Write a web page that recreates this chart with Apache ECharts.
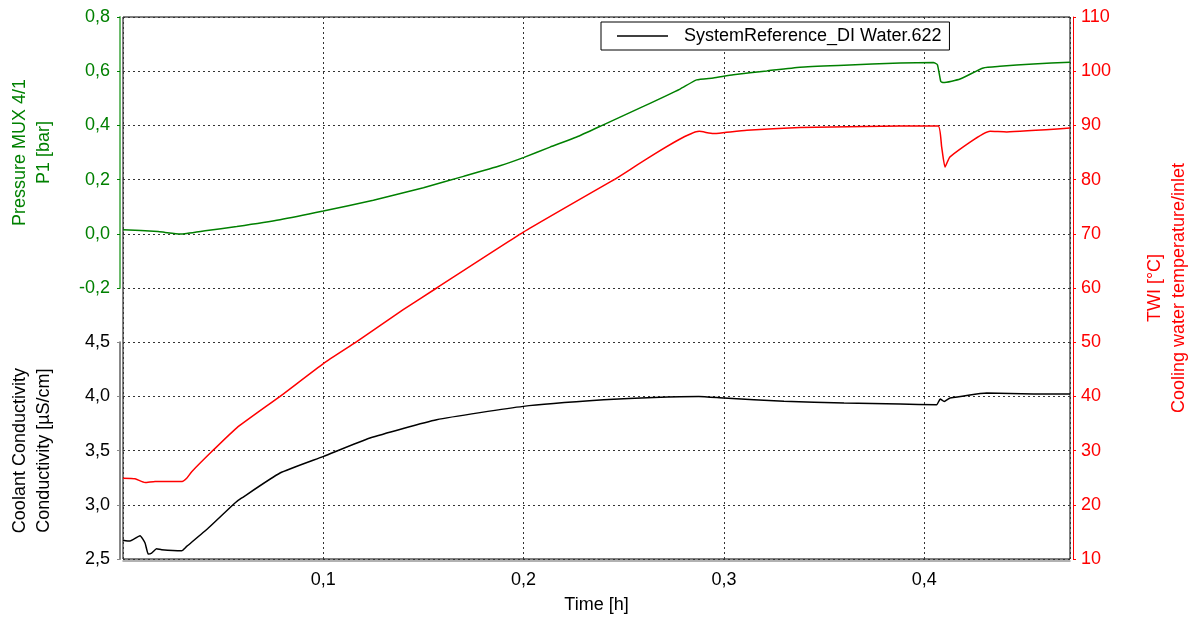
<!DOCTYPE html>
<html>
<head>
<meta charset="utf-8">
<script src="https://cdn.jsdelivr.net/npm/echarts@6/dist/echarts.min.js"></script>
<style>html,body{margin:0;padding:0;background:#fff}#c{width:1193px;height:619px}</style>
</head>
<body>
<div id="c"></div>
<script>
// Time [h]
const tTWI = [0, 0.006, 0.011, 0.016, 0.0295, 0.0318, 0.0343, 0.0451, 0.0568, 0.0784, 0.1002, 0.1167, 0.1399, 0.1566, 0.1999, 0.2448, 0.2877, 0.2947, 0.3005, 0.3114, 0.338, 0.37, 0.388, 0.407, 0.4087, 0.4104, 0.4129, 0.4329, 0.4412, 0.4728];
const vTWI = [24.9, 24.8, 24.1, 24.3, 24.3, 24.9, 26.1, 30.1, 34.2, 40.0, 46.1, 50.1, 56.0, 60.0, 70.3, 79.9, 88.9, 88.5, 88.7, 89.1, 89.6, 89.8, 89.9, 89.9, 86.1, 82.3, 84.2, 88.9, 88.8, 89.5];

const tP1 = [0, 0.0175, 0.021, 0.0285, 0.041, 0.0568, 0.0784, 0.1, 0.125, 0.15, 0.17, 0.1882, 0.2002, 0.2132, 0.2265, 0.2398, 0.2598, 0.2781, 0.2864, 0.2947, 0.3047, 0.3214, 0.338, 0.36, 0.388, 0.4046, 0.4066, 0.4083, 0.4096, 0.4179, 0.4295, 0.4378, 0.4545, 0.4728];
const vP1 = [0.015, 0.0085, 0.005, -0.001, 0.011, 0.027, 0.052, 0.084, 0.124, 0.17, 0.212, 0.251, 0.282, 0.320, 0.357, 0.402, 0.470, 0.534, 0.568, 0.575, 0.587, 0.601, 0.615, 0.622, 0.630, 0.632, 0.624, 0.562, 0.558, 0.571, 0.612, 0.618, 0.627, 0.633];

const tCond = [0, 0.0035, 0.0085, 0.011, 0.0126, 0.0143, 0.0168, 0.0193, 0.0293, 0.0318, 0.0426, 0.0559, 0.0593, 0.0784, 0.1002, 0.1233, 0.1566, 0.1999, 0.24, 0.265, 0.2875, 0.3, 0.33, 0.36, 0.388, 0.4062, 0.408, 0.41, 0.4129, 0.4312, 0.4545, 0.4728];
const vCond = [2.674, 2.666, 2.715, 2.648, 2.546, 2.555, 2.594, 2.585, 2.576, 2.616, 2.786, 3.017, 3.063, 3.293, 3.447, 3.616, 3.785, 3.908, 3.968, 3.99, 4.0, 3.985, 3.955, 3.94, 3.93, 3.923, 3.976, 3.954, 3.985, 4.031, 4.022, 4.022];

const legendName = 'SystemReference_DI Water.622';
const xName = 'Time [h]';
const pName = 'Pressure MUX 4/1\nP1 [bar]';
const cName = 'Coolant Conductivity\nConductivity [µS/cm]';
const tName = 'TWI [°C]\nCooling water temperature/inlet';

const zip = (a, b) => a.map((x, i) => [x, b[i]]);
const comma = (v, d) => v.toFixed(d).replace('.', ',');
const FONT = 'Liberation Sans, Arial, sans-serif';
const XMAX = 0.4728;
const GREEN = '#008000', RED = '#ff0000';
const dotted = { type: [2, 3], color: '#333', width: 1 };
const gridBase = { left: 123, right: 123, outerBoundsMode: 'none', containLabel: false };

const chart = echarts.init(document.getElementById('c'));
chart.setOption({
  animation: false,
  textStyle: { fontFamily: FONT },
  grid: [
    Object.assign({ top: 17, height: 542, show: true, borderColor: '#000', borderWidth: 1, backgroundColor: 'transparent' }, gridBase),
    Object.assign({ top: 17, height: 271 }, gridBase),
    Object.assign({ top: 342.2, height: 216.8 }, gridBase)
  ],
  legend: {
    data: [legendName],
    left: 601, top: 22,
    padding: [5, 8, 5, 16],
    borderColor: '#000', borderWidth: 1, backgroundColor: '#fff',
    icon: 'rect', itemWidth: 51, itemHeight: 1.5,
    textStyle: { fontSize: 18, color: '#000', fontFamily: FONT, padding: [0, 0, 0, 11] }
  },
  xAxis: [
    {
      gridIndex: 0, type: 'value', min: 0, max: XMAX, interval: 0.1, offset: 2,
      name: xName, nameLocation: 'middle', nameGap: 35,
      nameTextStyle: { fontSize: 18, color: '#000', fontFamily: FONT },
      axisLine: { show: true, onZero: false, lineStyle: { color: '#999', width: 1.5 } },
      axisTick: { show: false },
      axisLabel: {
        fontSize: 18, color: '#000', margin: 10, fontFamily: FONT,
        formatter: v => (v > 0.05 && Math.abs(v * 10 - Math.round(v * 10)) < 1e-6) ? comma(v, 1) : '',
        showMaxLabel: false
      },
      splitLine: { show: true, lineStyle: dotted }
    },
    { gridIndex: 1, type: 'value', min: 0, max: XMAX, show: false },
    { gridIndex: 2, type: 'value', min: 0, max: XMAX, show: false }
  ],
  yAxis: [
    {
      gridIndex: 0, type: 'value', position: 'right', min: 10, max: 110, interval: 10, offset: 3,
      name: tName, nameLocation: 'middle', nameRotate: 90, nameGap: 70,
      nameTextStyle: { fontSize: 18, color: RED, lineHeight: 24, fontFamily: FONT },
      axisLine: { show: true, onZero: false, lineStyle: { color: RED, width: 1 } },
      axisTick: { show: true, length: 3, lineStyle: { color: RED } },
      axisLabel: { fontSize: 18, color: RED, margin: 8, fontFamily: FONT },
      splitLine: { show: true, lineStyle: dotted }
    },
    {
      gridIndex: 1, type: 'value', position: 'left', min: -0.2, max: 0.8, interval: 0.2, offset: 3,
      name: pName, nameLocation: 'middle', nameRotate: 90, nameGap: 64,
      nameTextStyle: { fontSize: 18, color: GREEN, lineHeight: 24, fontFamily: FONT },
      axisLine: { show: true, onZero: false, lineStyle: { color: '#6dbb6d', width: 2 } },
      axisTick: { show: true, length: 3, lineStyle: { color: GREEN } },
      axisLabel: { fontSize: 18, color: GREEN, margin: 10, fontFamily: FONT, formatter: v => comma(v, 1) },
      splitLine: { show: false }
    },
    {
      gridIndex: 2, type: 'value', position: 'left', min: 2.5, max: 4.5, interval: 0.5, offset: 3,
      name: cName, nameLocation: 'middle', nameRotate: 90, nameGap: 64,
      nameTextStyle: { fontSize: 18, color: '#000', lineHeight: 24, fontFamily: FONT },
      axisLine: { show: true, onZero: false, lineStyle: { color: '#888', width: 2 } },
      axisTick: { show: true, length: 3, lineStyle: { color: '#888' } },
      axisLabel: { fontSize: 18, color: '#000', margin: 10, fontFamily: FONT, formatter: v => comma(v, 1) },
      splitLine: { show: false }
    }
  ],
  series: [
    {
      name: 'P1', type: 'line', xAxisIndex: 1, yAxisIndex: 1, data: zip(tP1, vP1),
      symbol: 'none', smooth: 0.15,
      lineStyle: { color: GREEN, width: 1.5 }, itemStyle: { color: GREEN }
    },
    {
      name: 'TWI', type: 'line', xAxisIndex: 0, yAxisIndex: 0, data: zip(tTWI, vTWI),
      symbol: 'none', smooth: 0.15,
      lineStyle: { color: RED, width: 1.5 }, itemStyle: { color: RED }
    },
    {
      name: legendName, type: 'line', xAxisIndex: 2, yAxisIndex: 2, data: zip(tCond, vCond),
      symbol: 'none', smooth: 0.15,
      lineStyle: { color: '#000', width: 1.5 }, itemStyle: { color: '#000' }
    }
  ]
});
</script>
</body>
</html>
